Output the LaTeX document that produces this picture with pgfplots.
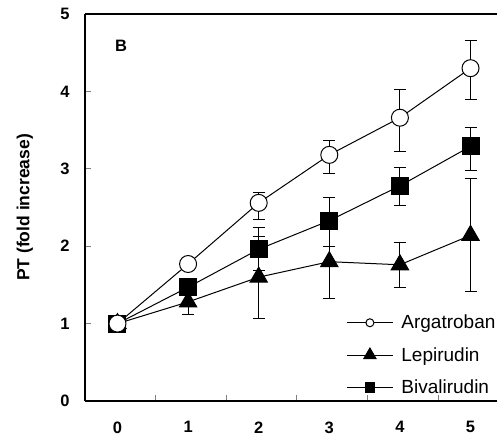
\documentclass[border=0pt]{standalone}
\usepackage{pgfplots}
\pgfplotsset{compat=1.18}
\usepackage{fontspec}
\setmainfont{Liberation Sans}
\begin{document}
\begin{tikzpicture}[x=1pt,y=1pt]
\path[use as bounding box] (-85,-35) rectangle (412,401);
\begin{axis}[
  at={(0,0)}, anchor=south west,
  scale only axis, width=412pt, height=387pt,
  xmin=-0.46, xmax=5.375, ymin=0, ymax=5,
  axis x line*=bottom, axis y line*=left,
  axis line style={-, line width=1.4pt},
  xtick={0,1,2,3,4,5},
  minor xtick={0.54,1.54,2.54,3.54,4.54},
  major x tick style={draw=none},
  minor x tick style={line width=1pt},
  minor tick length=6pt,
  ytick={0,1,2,3,4,5},
  major y tick style={line width=1pt},
  major tick length=6pt,
  tick align=inside,
  /pgf/number format/assume math mode=true,
  tick label style={font=\bfseries\fontsize{16.5}{16.5}\selectfont},
  xticklabel style={yshift=-17pt},
  yticklabel style={xshift=-12pt},
  ylabel={PT (fold increase)},
  ylabel style={font=\bfseries\fontsize{17.5}{17.5}\selectfont, at={(axis description cs:-0.146,0.5)}, anchor=center},
  clip=false,
  legend cell align=left,
  legend style={at={(rel axis cs:0.634,0.01)}, anchor=south west, draw=none, fill=none,
     font=\fontsize{19}{19}\selectfont, row sep=13pt, inner sep=0pt,
     /tikz/every odd column/.append style={column sep=6pt}},
  legend image code/.code={\draw[mark repeat=2, mark phase=2, #1] plot coordinates {(0pt,0pt) (23pt,0pt) (46pt,0pt)};},
  error bars/error bar style={line width=1pt, black},
  error bars/error mark options={rotate=90, mark size=6pt, line width=1pt, black},
]
\draw[line width=1.4pt] (rel axis cs:0,1) -- (rel axis cs:1,1);
\node[font=\bfseries\fontsize{16.5}{16.5}\selectfont] at (axis cs:0.05,4.59) {B};

% Lepirudin
\addplot[black, line width=1pt, mark=triangle*, mark size=10pt, mark options={fill=black}, forget plot,
  error bars/.cd, y dir=both, y explicit]
 coordinates {
 (0,1.00) += (0,0.02) -= (0,0.02)
 (1,1.28) += (0,0.16) -= (0,0.16)
 (2,1.60) += (0,0.53) -= (0,0.53)
 (3,1.80) += (0,0.48) -= (0,0.48)
 (4,1.76) += (0,0.29) -= (0,0.29)
 (5,2.14) += (0,0.73) -= (0,0.72)
 };
% Bivalirudin
\addplot[black, line width=1pt, mark=square*, mark size=8.5pt, mark options={fill=black}, forget plot,
  error bars/.cd, y dir=both, y explicit]
 coordinates {
 (0,1.00) += (0,0.02) -= (0,0.02)
 (1,1.47) += (0,0.08) -= (0,0.08)
 (2,1.96) += (0,0.28) -= (0,0.28)
 (3,2.33) += (0,0.30) -= (0,0.34)
 (4,2.78) += (0,0.24) -= (0,0.26)
 (5,3.29) += (0,0.25) -= (0,0.31)
 };
% Argatroban
\addplot[black, line width=1pt, mark=*, mark size=8.5pt, mark options={fill=white}, forget plot,
  error bars/.cd, y dir=both, y explicit]
 coordinates {
 (0,1.00) += (0,0.02) -= (0,0.02)
 (1,1.77) += (0,0.09) -= (0,0.09)
 (2,2.56) += (0,0.13) -= (0,0.21)
 (3,3.18) += (0,0.18) -= (0,0.24)
 (4,3.66) += (0,0.36) -= (0,0.44)
 (5,4.30) += (0,0.36) -= (0,0.41)
 };

\addlegendimage{black, line width=1pt, mark=*, mark size=4pt, mark options={fill=white}}
\addlegendentry{Argatroban}
\addlegendimage{black, line width=1pt, mark=triangle*, mark size=7pt, mark options={fill=black}}
\addlegendentry{Lepirudin}
\addlegendimage{black, line width=1pt, mark=square*, mark size=4.8pt, mark options={fill=black}}
\addlegendentry{Bivalirudin}
\end{axis}
\end{tikzpicture}
\end{document}
